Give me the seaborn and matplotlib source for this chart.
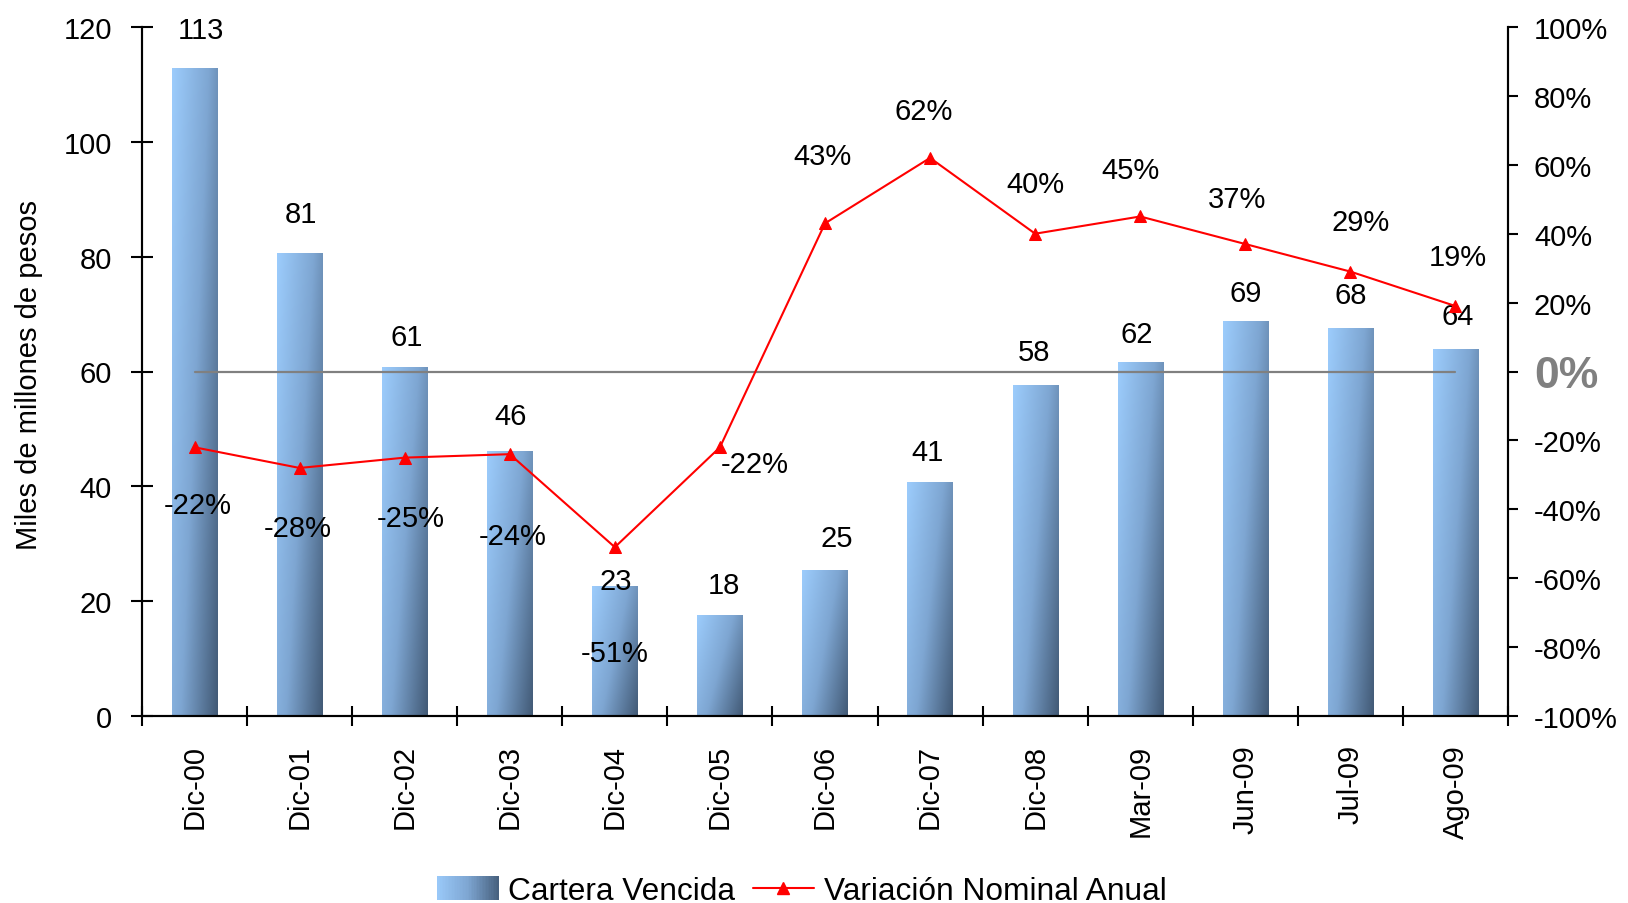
import numpy as np
import pandas as pd
import matplotlib
matplotlib.use('Agg')
import matplotlib.pyplot as plt
import seaborn as sns
from matplotlib.colors import LinearSegmentedColormap
from matplotlib.legend_handler import HandlerBase
from matplotlib.patches import Rectangle
from matplotlib.lines import Line2D

# ---------------- data ----------------
categories = ["Dic-00", "Dic-01", "Dic-02", "Dic-03", "Dic-04", "Dic-05", "Dic-06",
              "Dic-07", "Dic-08", "Mar-09", "Jun-09", "Jul-09", "Ago-09"]
cartera_vencida = [112.8, 80.7, 60.8, 46.1, 22.6, 17.6, 25.4, 40.8, 57.7, 61.7, 68.8, 67.6, 63.9]
variacion_nominal = [-22, -28, -25, -24, -51, -22, 43, 62, 40, 45, 37, 29, 19]
left_ticks = [0, 20, 40, 60, 80, 100, 120]
right_ticks = [-100, -80, -60, -40, -20, 0, 20, 40, 60, 80, 100]

# ---------------- layout (label offsets in pixels: dx, dy up) ----------------
bar_label_offsets = [(6, 38.5), (1, 38.5), (2, 29.5), (1, 35.5), (1, 5.5), (4, 29.5), (12, 32.5),
                     (-3, 29.5), (-1, 32.5), (-3, 27.5), (0, 27.5), (0, 32.5), (2, 33.5)]
pct_label_offsets = [(3, -58), (-2, -60), (6, -60), (3, -82), (0, -106), (35, -17),
                     (-2, 67), (-6, 47), (0, 50), (-10, 46), (-8, 45), (10, 50), (2, 49)]

sns.set_style('white')
plt.rcParams['font.family'] = ['Liberation Sans', 'DejaVu Sans']
for k in ['text.color', 'axes.labelcolor', 'xtick.color', 'ytick.color', 'axes.edgecolor']:
    plt.rcParams[k] = 'black'

W, H = 1628, 904
fig = plt.figure(figsize=(W / 100, H / 100), dpi=100)
ax = fig.add_axes([142 / W, 1 - 717 / H, (1508 - 142) / W, (717 - 28) / H])

df = pd.DataFrame({'cat': categories, 'val': cartera_vencida})
sns.barplot(data=df, x='cat', y='val', ax=ax, order=categories, width=0.43,
            color='#7FA8D5', saturation=1, errorbar=None)

# gradient fill on bars
cmap = LinearSegmentedColormap.from_list('grad', ['#9CCCFC', '#7EA6D2', '#425A76'])
uu, vv = np.meshgrid(np.linspace(0, 1, 64), np.linspace(0, 1, 64))
grad = 0.62 * uu + 0.38 * vv
for p in list(ax.patches):
    x0, y0, w, h = p.get_x(), p.get_y(), p.get_width(), p.get_height()
    p.set_facecolor('none')
    p.set_edgecolor('none')
    im = ax.imshow(grad, cmap=cmap, vmin=0, vmax=1, extent=(x0, x0 + w, y0, y0 + h),
                   origin='upper', aspect='auto', interpolation='bilinear', zorder=2)
    im.set_clip_path(p)

ax.set_xlim(-0.5, len(categories) - 0.5)
ax.set_ylim(0, 120)
ax.set_xlabel('')
ax.set_ylabel('Miles de millones de pesos', fontsize=21, color='black')
ax.yaxis.set_label_coords(-0.0725, 0.497)

ax.spines['top'].set_visible(False)
for s in ['left', 'bottom', 'right']:
    ax.spines[s].set_linewidth(1.5)
    ax.spines[s].set_color('black')

ax.set_yticks(left_ticks)
ax.set_yticklabels([str(t) for t in left_ticks])
ax.tick_params(axis='y', direction='inout', length=16, width=1.5, labelsize=21, pad=13.7,
               left=True, colors='black')
ax.set_xticks(range(len(categories)))
ax.set_xticklabels(categories, rotation=90)
ax.tick_params(axis='x', which='major', length=0, labelsize=21, pad=20, colors='black')
ax.set_xticks(np.arange(-0.5, len(categories), 1.0), minor=True)
ax.tick_params(axis='x', which='minor', direction='inout', length=15, width=1.5, bottom=True,
               colors='black')

# bar labels
for i, (v, off) in enumerate(zip(cartera_vencida, bar_label_offsets)):
    ax.annotate(f"{v:.0f}", (i, v), xytext=(off[0] * 0.72, off[1] * 0.72),
                textcoords='offset points', ha='center', va='center', fontsize=21,
                color='black', annotation_clip=False, zorder=5)

# secondary axis
ax2 = ax.twinx()
ax2.set_ylim(-100, 100)
x_idx = np.arange(len(categories))
ax2.plot([x_idx[0], x_idx[-1]], [0, 0], color='#808080', lw=1.6, zorder=1)
sns.lineplot(x=x_idx, y=variacion_nominal, ax=ax2, color='#FF0000', marker='^',
             markersize=9, markeredgecolor='#FF0000', linewidth=1.5, zorder=3)
ax2.set_xlim(-0.5, len(categories) - 0.5)
ax2.set_ylabel('')
ax2.spines['top'].set_visible(False)
for s in ['left', 'bottom', 'right']:
    ax2.spines[s].set_linewidth(1.5)
    ax2.spines[s].set_color('black')
ax2.set_yticks(right_ticks)
ax2.set_yticklabels([f"{t}%" for t in right_ticks])
ax2.tick_params(axis='y', direction='out', length=7.2, width=1.5, labelsize=21, pad=11.5,
                right=True, colors='black')
for t, lab in zip(right_ticks, ax2.get_yticklabels()):
    if t == 0:
        lab.set_color('#808080')
        lab.set_fontweight('bold')
        lab.set_fontsize(32)

for i, (v, off) in enumerate(zip(variacion_nominal, pct_label_offsets)):
    ax2.annotate(f"{v}%", (i, v), xytext=(off[0] * 0.72, off[1] * 0.72),
                 textcoords='offset points', ha='center', va='center', fontsize=21,
                 color='black', annotation_clip=False, zorder=6)


# legend
class HandlerGradient(HandlerBase):
    def create_artists(self, legend, orig_handle, xdescent, ydescent, width, height, fontsize, trans):
        n = 40
        arts = []
        for k in range(n):
            r = Rectangle((-xdescent + width * k / n, -ydescent - height * 0.1), width / n + 0.5,
                          height * 1.2, facecolor=cmap(0.05 + 0.9 * k / (n - 1)),
                          edgecolor='none', transform=trans)
            arts.append(r)
        return arts


bar_proxy = Rectangle((0, 0), 1, 1, facecolor='#7FA8D5')
line_proxy = Line2D([], [], color='#FF0000', marker='^', markersize=9, lw=1.5)
leg = fig.legend([bar_proxy, line_proxy], ['Cartera Vencida', 'Variación Nominal Anual'],
                 handler_map={bar_proxy: HandlerGradient()}, loc='center',
                 bbox_to_anchor=(0.4925, 1 - 892 / H), ncol=2, frameon=False, fontsize=22.8,
                 handlelength=1.95, handleheight=0.58, handletextpad=0.3, columnspacing=0.55)
for txt in leg.get_texts():
    txt.set_color('black')

fig.savefig('out.png', dpi=100)
